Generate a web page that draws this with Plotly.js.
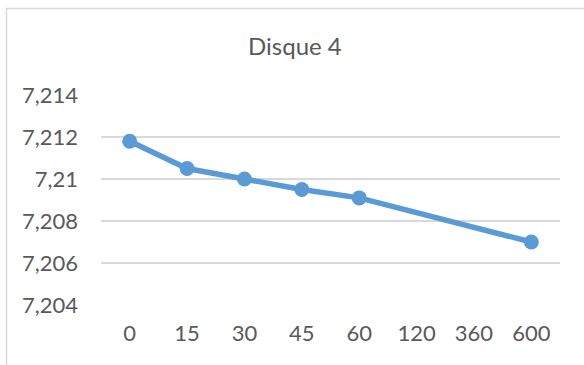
<!DOCTYPE html>
<html>
<head>
<meta charset="utf-8">
<script src="https://cdn.plot.ly/plotly-3.0.1.min.js"></script>
<style>html,body{margin:0;padding:0;background:#fff;}#chart{width:584px;height:365px;}</style>
</head>
<body>
<div id="chart"></div>
<script>
const categories = ["0", "15", "30", "45", "60", "120", "360", "600"];
const values = [7.2118, 7.2105, 7.2100, 7.2095, 7.2091, null, null, 7.2070];
const yTicks = [7.204, 7.206, 7.208, 7.21, 7.212, 7.214];
const yTickText = ["7,204", "7,206", "7,208", "7,21", "7,212", "7,214"];
const chartTitle = "Disque 4";

const FONT = "Lato, 'Open Sans', sans-serif";
const TXT = "#595959";

const trace = {
  x: categories,
  y: values,
  type: "scatter",
  mode: "lines+markers",
  connectgaps: true,
  line: {color: "#5b9bd5", width: 5.5},
  marker: {color: "#5b9bd5", size: 15},
  hoverinfo: "skip"
};

const layout = {
  width: 584,
  height: 365,
  margin: {l: 101, r: 24, t: 95, b: 60},
  paper_bgcolor: "#ffffff",
  plot_bgcolor: "#ffffff",
  showlegend: false,
  font: {family: FONT, color: TXT},
  title: {
    text: chartTitle,
    font: {family: FONT, size: 24, color: TXT},
    xref: "container", x: 0.505, xanchor: "center",
    yref: "container", y: 1 - 47/365, yanchor: "middle"
  },
  xaxis: {
    type: "category",
    categoryorder: "array",
    categoryarray: categories,
    range: [-0.5, 7.5],
    showgrid: false,
    zeroline: false,
    showline: false,
    ticks: "",
    ticklabelstandoff: 13,
    tickfont: {family: FONT, size: 22, color: TXT},
    fixedrange: true
  },
  yaxis: {
    range: [7.204, 7.214],
    tickvals: yTicks,
    ticktext: yTickText,
    showgrid: true,
    gridcolor: "#d9d9d9",
    gridwidth: 1.5,
    zeroline: false,
    showline: false,
    ticks: "",
    ticklabelstandoff: 22,
    tickfont: {family: FONT, size: 22, color: TXT},
    fixedrange: true
  },
  shapes: [{
    type: "rect",
    xref: "paper", yref: "paper",
    x0: (6.5 - 101) / 459, x1: 1.2,
    y0: -0.5, y1: (305 - 8.5) / 210,
    line: {color: "#d9d9d9", width: 1.5},
    fillcolor: "rgba(0,0,0,0)",
    layer: "below"
  }]
};

Plotly.newPlot("chart", [trace], layout, {staticPlot: true, displayModeBar: false});
</script>
</body>
</html>
